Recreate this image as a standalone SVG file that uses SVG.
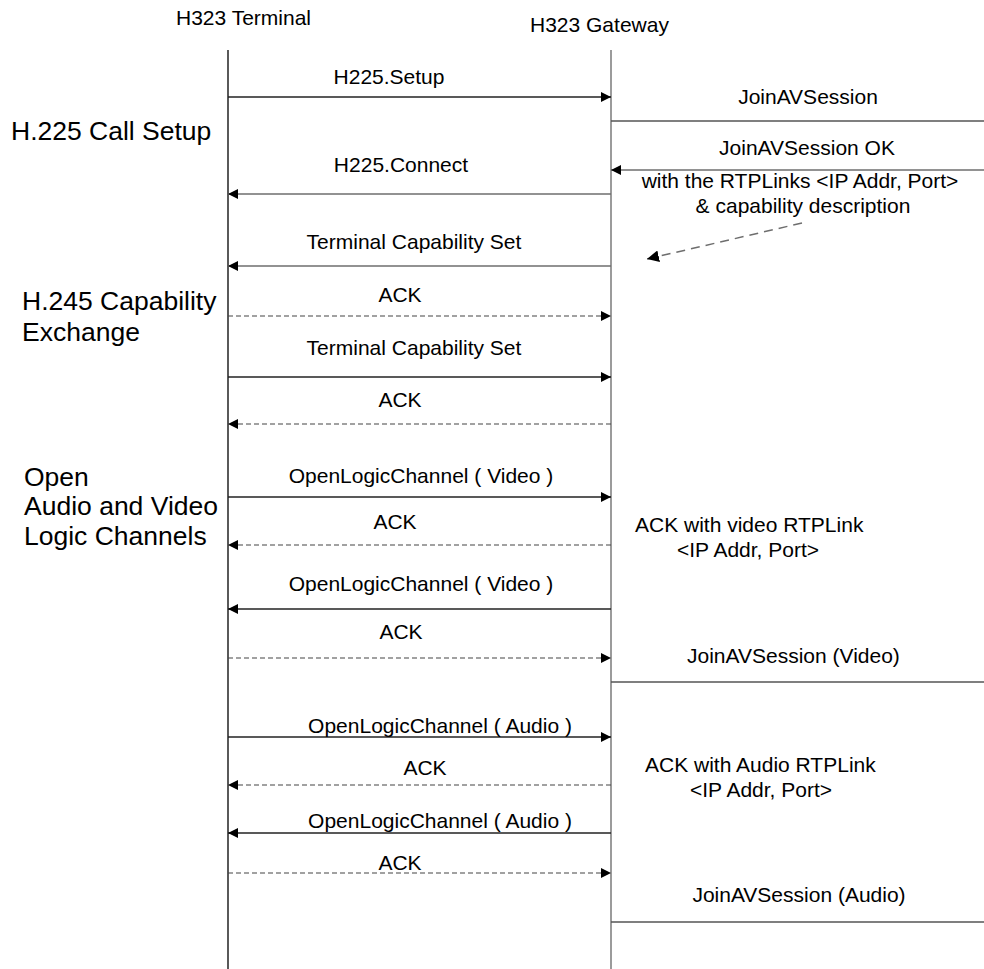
<svg xmlns="http://www.w3.org/2000/svg" width="984" height="969" viewBox="0 0 984 969">
<style>
text{font-family:"Liberation Sans",Arial,sans-serif;fill:#000}
.m{font-size:21px}
.g{font-size:26.5px}
.c{text-anchor:middle}
.ll{stroke:#000;stroke-width:1.3}
.lr{stroke:#7a7a7a;stroke-width:1.5}
.a{stroke:#222;stroke-width:1.3;fill:none}
.b{stroke:#6e6e6e;stroke-width:1.5;fill:none}
.d{stroke:#444;stroke-width:1.2;stroke-dasharray:5 3;fill:none}
.h{stroke:#555;stroke-width:1.4}
</style>
<defs>
<marker id="ah" viewBox="0 0 10 10" refX="10" refY="5" markerWidth="10" markerHeight="10" markerUnits="userSpaceOnUse" orient="auto">
<path d="M0,0 L10,5 L0,10 z" fill="#000"/>
</marker>
<marker id="ah2" viewBox="0 0 10 10" refX="10" refY="5" markerWidth="12" markerHeight="12" markerUnits="userSpaceOnUse" orient="auto">
<path d="M0,0 L10,5 L0,10 z" fill="#000"/>
</marker>
</defs>
<g id="terminal">
<text class="m" x="176" y="25">H323 Terminal</text>
<line class="ll" x1="228" y1="50" x2="228" y2="969"/>
</g>
<g id="gateway">
<text class="m" x="530" y="32">H323 Gateway</text>
<line class="lr" x1="611" y1="50" x2="611" y2="969"/>
</g>
<g id="phase-h225">
<text class="g" x="11" y="140">H.225 Call Setup</text>
</g>
<g id="phase-h245">
<text class="g" x="22" y="310">H.245 Capability</text>
<text class="g" x="22" y="341">Exchange</text>
</g>
<g id="phase-channels">
<text class="g" x="24" y="486">Open</text>
<text class="g" x="24" y="515">Audio and Video</text>
<text class="g" x="24" y="545">Logic Channels</text>
</g>
<g id="connectors">
<line class="a" x1="228" y1="97" x2="611" y2="97" marker-end="url(#ah)"/>
<line class="h" x1="611" y1="121" x2="984" y2="121"/>
<line class="b" x1="984" y1="170" x2="611" y2="170" marker-end="url(#ah)"/>
<line class="b" x1="802" y1="223" x2="647" y2="259" stroke="#000" stroke-width="2" stroke-dasharray="9 6" marker-end="url(#ah2)"/>
<line class="b" x1="611" y1="194" x2="228" y2="194" marker-end="url(#ah)"/>
<line class="b" x1="611" y1="266" x2="228" y2="266" marker-end="url(#ah)"/>
<line class="d" x1="228" y1="316" x2="611" y2="316" marker-end="url(#ah)"/>
<line class="a" x1="228" y1="377" x2="611" y2="377" marker-end="url(#ah)"/>
<line class="d" x1="611" y1="424" x2="228" y2="424" marker-end="url(#ah)"/>
<line class="a" x1="228" y1="497" x2="611" y2="497" marker-end="url(#ah)"/>
<line class="d" x1="611" y1="545" x2="228" y2="545" marker-end="url(#ah)"/>
<line class="a" x1="611" y1="609" x2="228" y2="609" marker-end="url(#ah)"/>
<line class="d" x1="228" y1="658" x2="611" y2="658" marker-end="url(#ah)"/>
<line class="h" x1="611" y1="682" x2="984" y2="682"/>
<line class="a" x1="228" y1="737" x2="611" y2="737" marker-end="url(#ah)"/>
<line class="d" x1="611" y1="785" x2="228" y2="785" marker-end="url(#ah)"/>
<line class="a" x1="611" y1="833" x2="228" y2="833" marker-end="url(#ah)"/>
<line class="d" x1="228" y1="873" x2="611" y2="873" marker-end="url(#ah)"/>
<line class="h" x1="611" y1="922" x2="984" y2="922"/>
</g>
<g id="labels">
<text class="m c" x="389" y="84">H225.Setup</text>
<text class="m c" x="808" y="104">JoinAVSession</text>
<text class="m c" x="807" y="155">JoinAVSession OK</text>
<text class="m c" x="800" y="188">with the RTPLinks &lt;IP Addr, Port&gt;</text>
<text class="m c" x="803" y="213">&amp; capability description</text>
<text class="m c" x="401" y="172">H225.Connect</text>
<text class="m c" x="414" y="249">Terminal Capability Set</text>
<text class="m c" x="400" y="302">ACK</text>
<text class="m c" x="414" y="355">Terminal Capability Set</text>
<text class="m c" x="400" y="407">ACK</text>
<text class="m c" x="421" y="483">OpenLogicChannel ( Video )</text>
<text class="m c" x="395" y="529">ACK</text>
<text class="m" x="635" y="532">ACK with video RTPLink</text>
<text class="m" x="677" y="557">&lt;IP Addr, Port&gt;</text>
<text class="m c" x="421" y="591">OpenLogicChannel ( Video )</text>
<text class="m c" x="401" y="639">ACK</text>
<text class="m" x="687" y="663">JoinAVSession (Video)</text>
<text class="m c" x="440" y="733">OpenLogicChannel ( Audio )</text>
<text class="m c" x="425" y="775">ACK</text>
<text class="m" x="645" y="772">ACK with Audio RTPLink</text>
<text class="m" x="690" y="797">&lt;IP Addr, Port&gt;</text>
<text class="m c" x="440" y="828">OpenLogicChannel ( Audio )</text>
<text class="m c" x="400" y="870">ACK</text>
<text class="m c" x="799" y="902">JoinAVSession (Audio)</text>
</g>
</svg>
